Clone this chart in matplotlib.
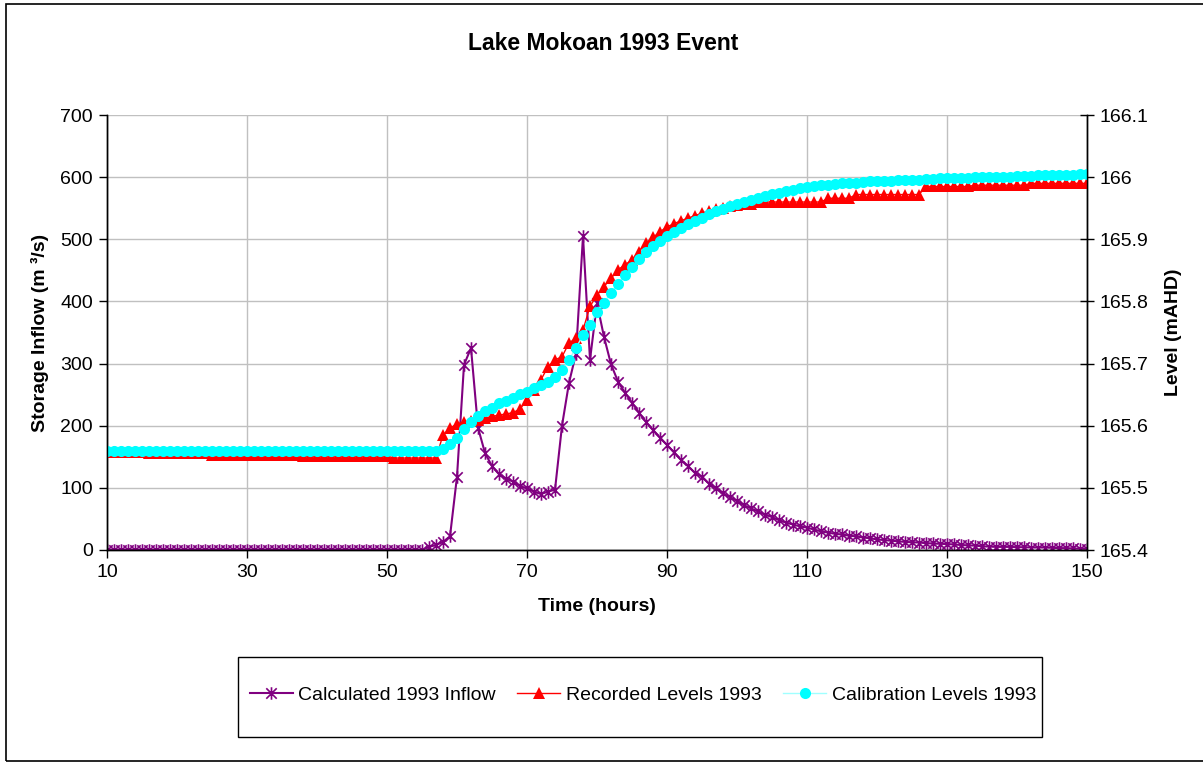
import matplotlib
matplotlib.use("Agg")
import matplotlib.pyplot as plt
from matplotlib.patches import Rectangle
from matplotlib.path import Path
from matplotlib.ticker import FuncFormatter

plt.rcParams['font.family'] = ['Liberation Sans', 'DejaVu Sans']

# hours 10..150, one value per hour
hours = list(range(10, 151))

inflow = [
    0, 0, 0, 0, 0, 0, 0, 0, 0, 0,           # 10-19
    0, 0, 0, 0, 0, 0, 0, 0, 0, 0,           # 20-29
    0, 0, 0, 0, 0, 0, 0, 0, 0, 0,           # 30-39
    0, 0, 0, 0, 0, 0, 0, 0, 0, 0,           # 40-49
    0, 0, 0, 0, 0, 0, 5, 8, 13, 22,         # 50-59
    118, 298, 325, 197, 156, 135, 122, 115, 110, 103,   # 60-69
    99, 94, 90, 94, 97, 200, 269, 316, 505, 306,        # 70-79
    397, 343, 299, 271, 253, 237, 221, 206, 193, 181,   # 80-89
    169, 157, 145, 135, 124, 118, 107, 99, 91, 85,      # 90-99
    79, 72, 67, 62, 57, 53, 48, 44, 41, 38,             # 100-109
    36, 33, 30, 28, 26, 25, 23, 22, 20, 19,             # 110-119
    17, 16, 15, 14, 13, 12.5, 12, 11, 10.5, 10,         # 120-129
    9.5, 9, 8, 7.5, 7, 6, 5.5, 5, 5, 5,                 # 130-139
    4.5, 4.5, 4, 4, 4, 3.5, 3, 3, 2.5, 2,               # 140-149
    2,                                                  # 150
]

recorded = [
    165.558, 165.558, 165.558, 165.558, 165.558, 165.558, 165.556, 165.556, 165.556, 165.556,  # 10-19
    165.556, 165.556, 165.556, 165.556, 165.556, 165.553, 165.553, 165.553, 165.553, 165.553,  # 20-29
    165.553, 165.553, 165.553, 165.553, 165.553, 165.553, 165.553, 165.553, 165.551, 165.551,  # 30-39
    165.551, 165.551, 165.551, 165.551, 165.551, 165.551, 165.551, 165.551, 165.551, 165.551,  # 40-49
    165.551, 165.548, 165.548, 165.548, 165.548, 165.548, 165.548, 165.548, 165.585, 165.596,  # 50-59
    165.603, 165.606, 165.608, 165.610, 165.612, 165.615, 165.617, 165.619, 165.621, 165.627,  # 60-69
    165.641, 165.657, 165.674, 165.695, 165.706, 165.711, 165.733, 165.741, 165.754, 165.792,  # 70-79
    165.810, 165.824, 165.837, 165.851, 165.859, 165.867, 165.880, 165.894, 165.903, 165.912,  # 80-89
    165.920, 165.925, 165.930, 165.934, 165.938, 165.942, 165.946, 165.949, 165.951, 165.953,  # 90-99
    165.955, 165.956, 165.957, 165.960, 165.960, 165.960, 165.960, 165.960, 165.960, 165.960,  # 100-109
    165.960, 165.960, 165.960, 165.966, 165.966, 165.966, 165.966, 165.972, 165.972, 165.972,  # 110-119
    165.972, 165.972, 165.972, 165.972, 165.972, 165.972, 165.972, 165.985, 165.985, 165.985,  # 120-129
    165.985, 165.985, 165.985, 165.985, 165.987, 165.987, 165.987, 165.987, 165.987, 165.987,  # 130-139
    165.987, 165.987, 165.990, 165.990, 165.990, 165.990, 165.990, 165.990, 165.990, 165.990,  # 140-149
    165.990,                                                                                   # 150
]

calibration = [
    165.560, 165.560, 165.560, 165.560, 165.560, 165.560, 165.560, 165.560, 165.560, 165.560,  # 10-19
    165.560, 165.560, 165.560, 165.560, 165.560, 165.560, 165.560, 165.560, 165.560, 165.560,  # 20-29
    165.560, 165.560, 165.560, 165.560, 165.560, 165.560, 165.560, 165.560, 165.560, 165.560,  # 30-39
    165.560, 165.560, 165.560, 165.560, 165.560, 165.560, 165.560, 165.560, 165.560, 165.560,  # 40-49
    165.560, 165.560, 165.560, 165.560, 165.560, 165.560, 165.560, 165.560, 165.563, 165.570,  # 50-59
    165.580, 165.594, 165.606, 165.615, 165.623, 165.629, 165.636, 165.640, 165.645, 165.651,  # 60-69
    165.655, 165.660, 165.666, 165.671, 165.679, 165.690, 165.706, 165.725, 165.746, 165.762,  # 70-79
    165.783, 165.798, 165.814, 165.828, 165.842, 165.855, 165.868, 165.880, 165.889, 165.898,  # 80-89
    165.905, 165.912, 165.918, 165.924, 165.930, 165.935, 165.940, 165.945, 165.949, 165.953,  # 90-99
    165.957, 165.960, 165.964, 165.967, 165.970, 165.973, 165.975, 165.978, 165.980, 165.982,  # 100-109
    165.984, 165.985, 165.987, 165.988, 165.989, 165.990, 165.990, 165.991, 165.992, 165.993,  # 110-119
    165.993, 165.994, 165.994, 165.995, 165.995, 165.996, 165.996, 165.997, 165.997, 165.998,  # 120-129
    165.998, 165.999, 165.999, 165.999, 166.000, 166.000, 166.000, 166.001, 166.001, 166.001,  # 130-139
    166.002, 166.002, 166.002, 166.003, 166.003, 166.003, 166.004, 166.004, 166.004, 166.005,  # 140-149
    166.005,                                                                                   # 150
]

x_ticks = [10, 30, 50, 70, 90, 110, 130, 150]
left_ticks = [0, 100, 200, 300, 400, 500, 600, 700]
right_ticks = [165.4, 165.5, 165.6, 165.7, 165.8, 165.9, 166.0, 166.1]

# Excel style star: an X with a vertical bar through it
star = Path([(-1, -1), (1, 1), (-1, 1), (1, -1), (0, -1.2), (0, 1.2)],
            [Path.MOVETO, Path.LINETO, Path.MOVETO, Path.LINETO, Path.MOVETO, Path.LINETO])

fig = plt.figure(figsize=(12.03, 7.63), dpi=100)
ax = fig.add_axes([107 / 1203, 1 - 550 / 763, 980 / 1203, 435 / 763])
ax2 = ax.twinx()

# outer chart border
fig.patches.append(Rectangle((6 / 1203, 1 - 761 / 763), 1.02, 757 / 763,
                             transform=fig.transFigure, fill=False,
                             edgecolor='black', linewidth=1.2))
# legend box
fig.patches.append(Rectangle((238 / 1203, 1 - 737 / 763), 804 / 1203, 80 / 763,
                             transform=fig.transFigure, fill=False,
                             edgecolor='black', linewidth=1))

l1, = ax.plot(hours, inflow, color='#800080', linewidth=1.5,
              marker=star, markersize=9, markeredgewidth=1.2,
              label='Calculated 1993 Inflow')
l2, = ax2.plot(hours, recorded, color='#FF0000', linewidth=1,
               marker='^', markersize=8, markeredgewidth=0,
               label='Recorded Levels 1993')
l3, = ax2.plot(hours, calibration, color='#A0FFFF', linewidth=1,
               marker='o', markersize=8, markerfacecolor='#00FFFF',
               markeredgewidth=0, label='Calibration Levels 1993')

ax.set_xlim(10, 150)
ax.set_ylim(0, 700)
ax2.set_ylim(165.4, 166.1)
ax.set_xticks(x_ticks)
ax.set_yticks(left_ticks)
ax2.set_yticks(right_ticks)
ax2.yaxis.set_major_formatter(FuncFormatter(lambda v, p: f'{v:.1f}'.rstrip('0').rstrip('.')))

ax.grid(True, color='#c0c0c0', linewidth=1)
ax.set_axisbelow(True)

for a in (ax, ax2):
    a.spines['top'].set_visible(False)
    for s in ('left', 'right', 'bottom'):
        a.spines[s].set_color('black')
        a.spines[s].set_linewidth(1)

ax.tick_params(axis='both', direction='out', length=6, width=1, labelsize=14, pad=4)
ax2.tick_params(axis='y', direction='inout', length=10, width=1, labelsize=14, pad=4)

ax.set_xlabel('Time (hours)', fontsize=14, fontweight='bold', labelpad=12)
ax.set_ylabel('Storage Inflow (m \u00b3/s)', fontsize=14, fontweight='bold', labelpad=8)
ax2.set_ylabel('Level (mAHD)', fontsize=14, fontweight='bold', labelpad=12)

fig.text(603 / 1203, 1 - 44 / 763, 'Lake Mokoan 1993 Event', ha='center', va='center',
         fontsize=16.5, fontweight='bold')

leg = fig.legend(handles=[l1, l2, l3], ncol=3, loc='center',
                 bbox_to_anchor=(643 / 1203, 1 - 695 / 763),
                 fontsize=14, frameon=False, handlelength=2.2,
                 handletextpad=0.3, columnspacing=1.1, borderaxespad=0)

fig.savefig('out.png', dpi=100)
